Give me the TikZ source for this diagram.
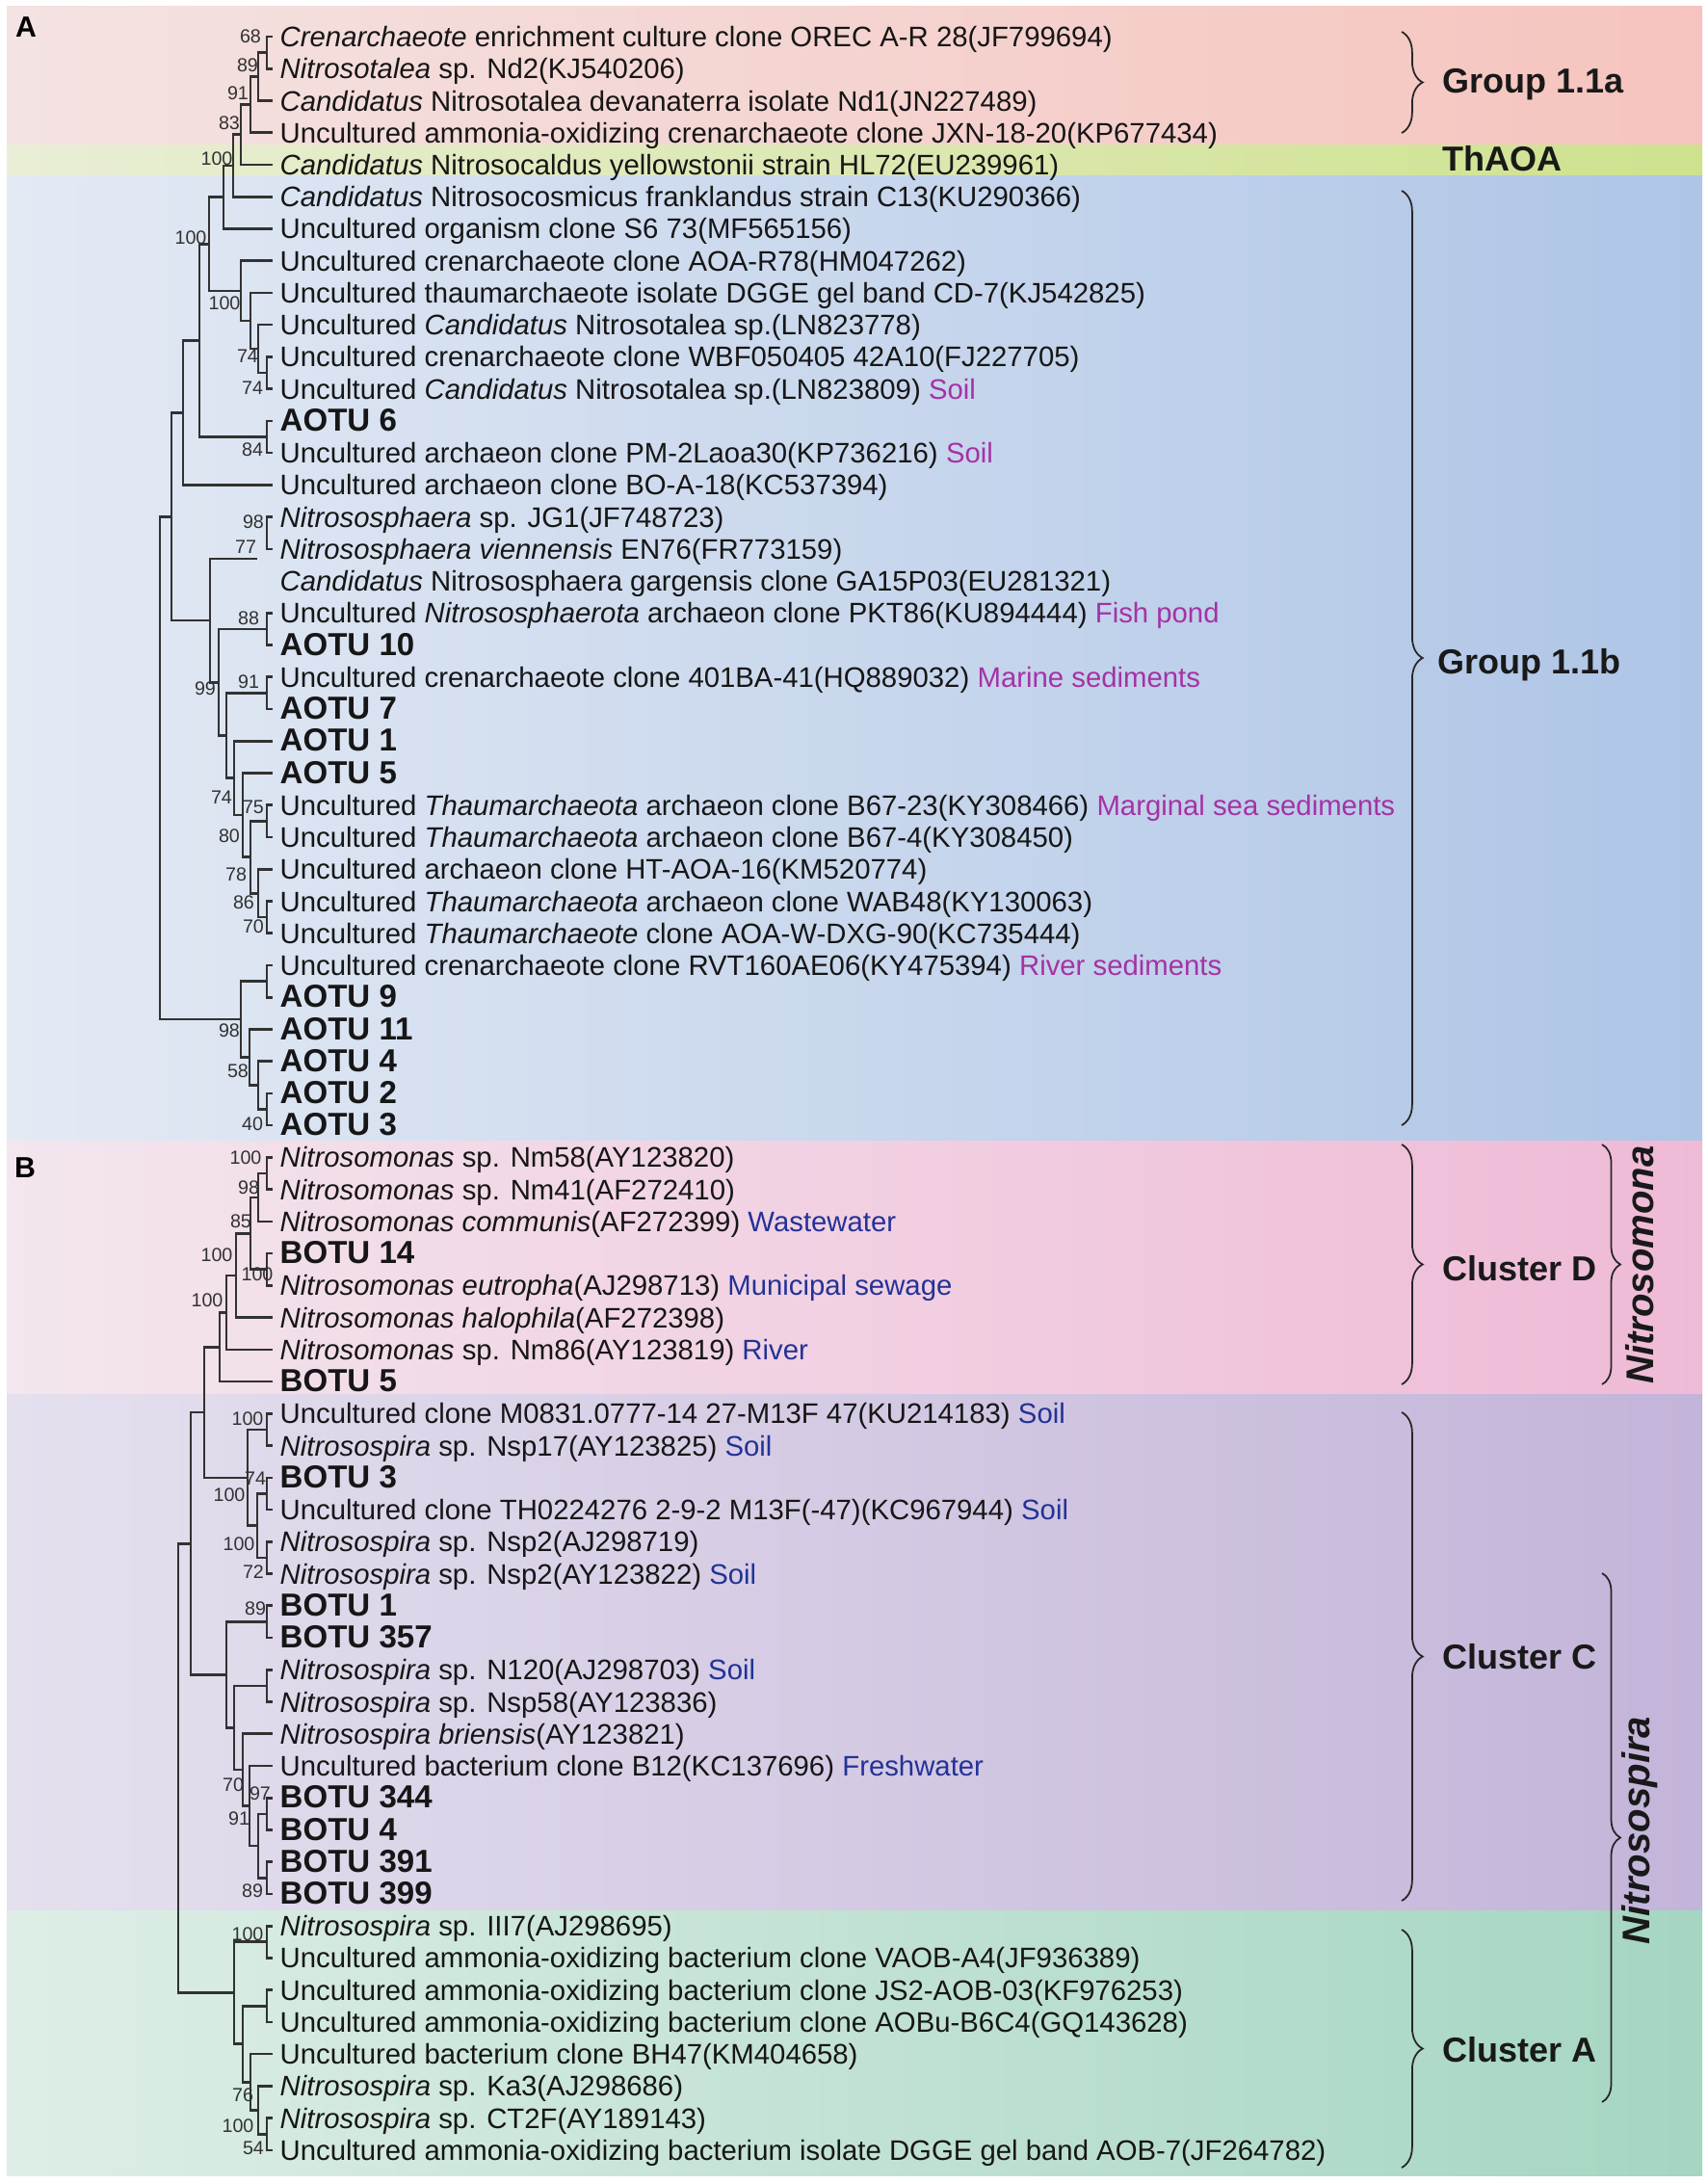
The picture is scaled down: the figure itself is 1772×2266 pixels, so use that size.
\documentclass[tikz,border=0pt]{standalone}
\usepackage{fontspec}
\setmainfont{Liberation Sans}
\usetikzlibrary{calc,decorations.pathreplacing}
\definecolor{brln}{RGB}{50,50,50}
\definecolor{txt}{RGB}{22,22,22}
\definecolor{habA}{RGB}{165,50,165}
\definecolor{habB}{RGB}{35,50,150}
\definecolor{pkAl}{RGB}{243,227,226}
\definecolor{pkAr}{RGB}{246,196,190}
\definecolor{grl}{RGB}{233,238,214}
\definecolor{grr}{RGB}{206,226,142}
\definecolor{bll}{RGB}{228,234,244}
\definecolor{blr}{RGB}{174,197,230}
\definecolor{pkBl}{RGB}{243,230,238}
\definecolor{pkBr}{RGB}{239,186,214}
\definecolor{pul}{RGB}{229,224,238}
\definecolor{pur}{RGB}{195,180,217}
\definecolor{gnl}{RGB}{222,238,230}
\definecolor{gnr}{RGB}{165,214,193}
\newcommand\hA[1]{\textcolor{habA}{#1}}
\newcommand\hB[1]{\textcolor{habB}{#1}}
\newcommand\bfnt{\fontsize{9.4}{11}\selectfont\bfseries}
\newcommand\lf[3]{\coordinate (#1) at (283,{38+(#2-1)*33.24});
  \node[tx] (t#1) at (290,{38+(#2-1)*33.24}) {#3};}
\newcommand\inode[4]{\path let \p1=($(#3)!0.5!(#4)$), \p2=(#2,0) in coordinate (#1) at (\x2,\y1);
  \draw[br] (#1) |- (#3); \draw[br] (#1) |- (#4);}
\newcommand\bs[4]{\node[bsn] (#1) at (#2,#3) {#4};}
\tikzset{
  br/.style={draw=brln,line width=0.75pt},
  tx/.style={anchor=west,inner sep=0pt,text height=6pt,text depth=0pt,text=txt,font=\fontsize{8.34}{10}\selectfont},
  bsn/.style={inner sep=0pt,text=brln,font=\fontsize{5.6}{6}\selectfont},
  brc/.style={draw=black!85,line width=0.5pt,decorate,decoration={brace,amplitude=6.2pt}},
  brc2/.style={draw=black!85,line width=0.5pt,decorate,decoration={brace,amplitude=5.4pt}},
  grp/.style={anchor=west,inner sep=0pt,text=black!90,font=\fontsize{10.24}{12}\selectfont\bfseries},
  rot/.style={rotate=90,inner sep=0pt,text=black!90,font=\fontsize{11.4}{13}\selectfont\bfseries\itshape}
}
\begin{document}
\begin{tikzpicture}[x=0.01cm,y=-0.01cm]
\useasboundingbox (0,0) rectangle (1772,2266);
\fill[white] (0,0) rectangle (1772,2266);
% background bands
\shade[left color=pkAl,right color=pkAr] (7,6) rectangle (1767,150);
\shade[left color=grl,right color=grr] (7,150) rectangle (1767,182);
\shade[left color=bll,right color=blr] (7,182) rectangle (1767,1184);
\shade[left color=pkBl,right color=pkBr] (7,1184) rectangle (1767,1447);
\shade[left color=pul,right color=pur] (7,1447) rectangle (1767,1983);
\shade[left color=gnl,right color=gnr] (7,1983) rectangle (1767,2258);
% panel letters
\node[inner sep=0pt,font=\fontsize{8.6}{10}\selectfont\bfseries] (lA) at (27,28) {A};
\node[inner sep=0pt,font=\fontsize{8.6}{10}\selectfont\bfseries] (lB) at (26,1212) {B};
% ---------- leaves A ----------
\lf{a1}{1}{\textit{Crenarchaeote} enrichment culture clone OREC A-R 28(JF799694)}
\lf{a2}{2}{\textit{Nitrosotalea} sp. Nd2(KJ540206)}
\lf{a3}{3}{\textit{Candidatus} Nitrosotalea devanaterra isolate Nd1(JN227489)}
\lf{a4}{4}{Uncultured ammonia-oxidizing crenarchaeote clone JXN-18-20(KP677434)}
\lf{a5}{5}{\textit{Candidatus} Nitrosocaldus yellowstonii strain HL72(EU239961)}
\lf{a6}{6}{\textit{Candidatus} Nitrosocosmicus franklandus strain C13(KU290366)}
\lf{a7}{7}{Uncultured organism clone S6 73(MF565156)}
\lf{a8}{8}{Uncultured crenarchaeote clone AOA-R78(HM047262)}
\lf{a9}{9}{Uncultured thaumarchaeote isolate DGGE gel band CD-7(KJ542825)}
\lf{a10}{10}{Uncultured \textit{Candidatus} Nitrosotalea sp.(LN823778)}
\lf{a11}{11}{Uncultured crenarchaeote clone WBF050405 42A10(FJ227705)}
\lf{a12}{12}{Uncultured \textit{Candidatus} Nitrosotalea sp.(LN823809) \hA{Soil}}
\lf{a13}{13}{\bfnt AOTU 6}
\lf{a14}{14}{Uncultured archaeon clone PM-2Laoa30(KP736216) \hA{Soil}}
\lf{a15}{15}{Uncultured archaeon clone BO-A-18(KC537394)}
\lf{a16}{16}{\textit{Nitrososphaera} sp. JG1(JF748723)}
\lf{a17}{17}{\textit{Nitrososphaera viennensis} EN76(FR773159)}
\lf{a18}{18}{\textit{Candidatus} Nitrososphaera gargensis clone GA15P03(EU281321)}
\lf{a19}{19}{Uncultured \textit{Nitrososphaerota} archaeon clone PKT86(KU894444) \hA{Fish pond}}
\lf{a20}{20}{\bfnt AOTU 10}
\lf{a21}{21}{Uncultured crenarchaeote clone 401BA-41(HQ889032) \hA{Marine sediments}}
\lf{a22}{22}{\bfnt AOTU 7}
\lf{a23}{23}{\bfnt AOTU 1}
\lf{a24}{24}{\bfnt AOTU 5}
\lf{a25}{25}{Uncultured \textit{Thaumarchaeota} archaeon clone B67-23(KY308466) \hA{Marginal sea sediments}}
\lf{a26}{26}{Uncultured \textit{Thaumarchaeota} archaeon clone B67-4(KY308450)}
\lf{a27}{27}{Uncultured archaeon clone HT-AOA-16(KM520774)}
\lf{a28}{28}{Uncultured \textit{Thaumarchaeota} archaeon clone WAB48(KY130063)}
\lf{a29}{29}{Uncultured \textit{Thaumarchaeote} clone AOA-W-DXG-90(KC735444)}
\lf{a30}{30}{Uncultured crenarchaeote clone RVT160AE06(KY475394) \hA{River sediments}}
\lf{a31}{31}{\bfnt AOTU 9}
\lf{a32}{32}{\bfnt AOTU 11}
\lf{a33}{33}{\bfnt AOTU 4}
\lf{a34}{34}{\bfnt AOTU 2}
\lf{a35}{35}{\bfnt AOTU 3}
% ---------- leaves B ----------
\lf{b1}{36}{\textit{Nitrosomonas} sp. Nm58(AY123820)}
\lf{b2}{37}{\textit{Nitrosomonas} sp. Nm41(AF272410)}
\lf{b3}{38}{\textit{Nitrosomonas communis}(AF272399) \hB{Wastewater}}
\lf{b4}{39}{\bfnt BOTU 14}
\lf{b5}{40}{\textit{Nitrosomonas eutropha}(AJ298713) \hB{Municipal sewage}}
\lf{b6}{41}{\textit{Nitrosomonas halophila}(AF272398)}
\lf{b7}{42}{\textit{Nitrosomonas} sp. Nm86(AY123819) \hB{River}}
\lf{b8}{43}{\bfnt BOTU 5}
\lf{b9}{44}{Uncultured clone M0831.0777-14 27-M13F 47(KU214183) \hB{Soil}}
\lf{b10}{45}{\textit{Nitrosospira} sp. Nsp17(AY123825) \hB{Soil}}
\lf{b11}{46}{\bfnt BOTU 3}
\lf{b12}{47}{Uncultured clone TH0224276 2-9-2 M13F(-47)(KC967944) \hB{Soil}}
\lf{b13}{48}{\textit{Nitrosospira} sp. Nsp2(AJ298719)}
\lf{b14}{49}{\textit{Nitrosospira} sp. Nsp2(AY123822) \hB{Soil}}
\lf{b15}{50}{\bfnt BOTU 1}
\lf{b16}{51}{\bfnt BOTU 357}
\lf{b17}{52}{\textit{Nitrosospira} sp. N120(AJ298703) \hB{Soil}}
\lf{b18}{53}{\textit{Nitrosospira} sp. Nsp58(AY123836)}
\lf{b19}{54}{\textit{Nitrosospira briensis}(AY123821)}
\lf{b20}{55}{Uncultured bacterium clone B12(KC137696) \hB{Freshwater}}
\lf{b21}{56}{\bfnt BOTU 344}
\lf{b22}{57}{\bfnt BOTU 4}
\lf{b23}{58}{\bfnt BOTU 391}
\lf{b24}{59}{\bfnt BOTU 399}
\lf{b25}{60}{\textit{Nitrosospira} sp. III7(AJ298695)}
\lf{b26}{61}{Uncultured ammonia-oxidizing bacterium clone VAOB-A4(JF936389)}
\lf{b27}{62}{Uncultured ammonia-oxidizing bacterium clone JS2-AOB-03(KF976253)}
\lf{b28}{63}{Uncultured ammonia-oxidizing bacterium clone AOBu-B6C4(GQ143628)}
\lf{b29}{64}{Uncultured bacterium clone BH47(KM404658)}
\lf{b30}{65}{\textit{Nitrosospira} sp. Ka3(AJ298686)}
\lf{b31}{66}{\textit{Nitrosospira} sp. CT2F(AY189143)}
\lf{b32}{67}{Uncultured ammonia-oxidizing bacterium isolate DGGE gel band AOB-7(JF264782)}
% ---------- tree A ----------
\inode{NA1}{277}{a1}{a2}
\inode{NA2}{268}{NA1}{a3}
\inode{NA3}{260}{NA2}{a4}
\inode{NA4}{250}{NA3}{a5}
\inode{NA5}{242}{NA4}{a6}
\inode{NA6}{232}{NA5}{a7}
\inode{Ne}{277}{a11}{a12}
\inode{Nd}{268}{a10}{Ne}
\inode{Nc}{260}{a9}{Nd}
\inode{Nb}{250}{a8}{Nc}
\inode{NA7}{217}{NA6}{Nb}
\inode{N10}{277}{a13}{a14}
\inode{NA9}{207}{NA7}{N10}
\inode{NA11}{190}{NA9}{a15}
\inode{N16}{277}{a16}{a17}
\coordinate (dng) at (267,580);
\inode{N88}{277}{a19}{a20}
\inode{N91}{277}{a21}{a22}
\inode{N75}{277}{a25}{a26}
\inode{N70}{277}{a28}{a29}
\inode{N86}{268}{a27}{N70}
\inode{N78}{260}{N75}{N86}
\inode{N80}{252}{a24}{N78}
\inode{N74}{243}{a23}{N80}
\inode{Nr}{235}{N91}{N74}
\inode{Nq}{227}{N88}{Nr}
\inode{Nsph}{218}{dng}{Nq}
\inode{NA12}{178}{NA11}{Nsph}
\inode{Nrv}{277}{a30}{a31}
\inode{Nz}{277}{a34}{a35}
\inode{Ny}{268}{a33}{Nz}
\inode{Nx}{259}{a32}{Ny}
\inode{Ngrp}{250}{Nrv}{Nx}
\inode{RootA}{166}{NA12}{Ngrp}
% ---------- tree B ----------
\inode{B1}{277}{b1}{b2}
\inode{B2}{268}{B1}{b3}
\inode{B3}{277}{b4}{b5}
\inode{B4}{260}{B2}{B3}
\inode{B5}{245}{B4}{b6}
\inode{B6}{235}{B5}{b7}
\inode{B7}{228}{B6}{b8}
\inode{B910}{277}{b9}{b10}
\inode{B1112}{277}{b11}{b12}
\inode{B1314}{277}{b13}{b14}
\inode{Bmid}{267}{B1112}{B1314}
\inode{Ncc}{257}{B910}{Bmid}
\inode{B8}{212}{B7}{Ncc}
\inode{N89}{277}{b15}{b16}
\inode{Nn}{277}{b17}{b18}
\inode{N97}{277}{b21}{b22}
\inode{N89b}{277}{b23}{b24}
\inode{Ny2}{268}{N97}{N89b}
\inode{Nx2}{259}{b20}{Ny2}
\inode{N70b}{252}{b19}{Nx2}
\inode{Nrest}{243}{Nn}{N70b}
\inode{Ncl}{235}{N89}{Nrest}
\inode{B9}{198}{B8}{Ncl}
\inode{Na1}{277}{b25}{b26}
\inode{P2728}{277}{b27}{b28}
\inode{NA5b}{277}{b31}{b32}
\inode{NA4b}{268}{b30}{NA5b}
\inode{NA3b}{260}{b29}{NA4b}
\inode{NA2b}{252}{P2728}{NA3b}
\inode{NAb}{243}{Na1}{NA2b}
\inode{RootB}{185}{B9}{NAb}
% ---------- bootstrap values ----------
\bs{bA1}{260}{38}{68}
\bs{bA2}{257}{68}{89}
\bs{bA3}{247}{97}{91}
\bs{bA4}{238}{128}{83}
\bs{bA5}{225}{165}{100}
\bs{bA6}{198}{247}{100}
\bs{bA7}{233}{315}{100}
\bs{bA8}{257}{370}{74}
\bs{bA9}{262}{403}{74}
\bs{bA10}{262}{467}{84}
\bs{bA11}{263}{542}{98}
\bs{bA12}{255}{568}{77}
\bs{bA13}{258}{642}{88}
\bs{bA14}{213}{715}{99}
\bs{bA15}{258}{708}{91}
\bs{bA16}{230}{828}{74}
\bs{bA17}{263}{838}{75}
\bs{bA18}{238}{868}{80}
\bs{bA19}{245}{908}{78}
\bs{bA20}{253}{937}{86}
\bs{bA21}{263}{962}{70}
\bs{bA22}{238}{1070}{98}
\bs{bA23}{247}{1112}{58}
\bs{bA24}{262}{1167}{40}
\bs{bB1}{255}{1202}{100}
\bs{bB2}{258}{1233}{98}
\bs{bB3}{250}{1268}{85}
\bs{bB4}{225}{1303}{100}
\bs{bB5}{267}{1323}{100}
\bs{bB6}{215}{1350}{100}
\bs{bB7}{257}{1473}{100}
\bs{bB8}{265}{1535}{74}
\bs{bB9}{238}{1552}{100}
\bs{bB10}{248}{1603}{100}
\bs{bB11}{263}{1632}{72}
\bs{bB12}{265}{1670}{89}
\bs{bB13}{242}{1853}{70}
\bs{bB14}{270}{1862}{97}
\bs{bB15}{248}{1888}{91}
\bs{bB16}{262}{1963}{89}
\bs{bB17}{257}{2008}{100}
\bs{bB18}{252}{2175}{76}
\bs{bB19}{247}{2207}{100}
\bs{bB20}{263}{2230}{54}
% ---------- braces and group labels ----------
\draw[brc] (1455,33) -- (1455,138);
\node[grp] (g11a) at (1497,88) {Group 1.1a};
\node[grp] (thaoa) at (1497,165) {ThAOA};
\draw[brc] (1455,198) -- (1455,1168);
\node[grp] (g11b) at (1492,690) {Group 1.1b};
\draw[brc] (1455,1188) -- (1455,1437);
\node[grp] (clD) at (1497,1317) {Cluster D};
\draw[brc] (1455,1466) -- (1455,1973);
\node[grp] (clC) at (1497,1720) {Cluster C};
\draw[brc] (1455,2003) -- (1455,2250);
\node[grp] (clA) at (1497,2128) {Cluster A};
\draw[brc2] (1663,1188) -- (1663,1437);
\node[rot] (nsm) at (1702,1313) {Nitrosomona};
\draw[brc2] (1663,1633) -- (1663,2182);
\node[rot] (nsp) at (1702,1900) {Nitrosospira};
\end{tikzpicture}
\end{document}
